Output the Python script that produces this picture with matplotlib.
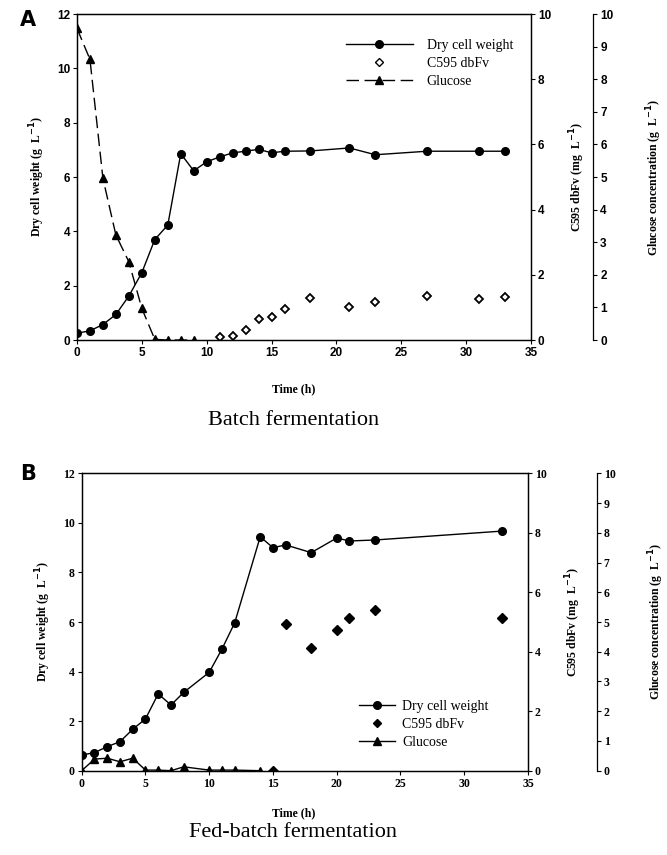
import matplotlib
matplotlib.use("Agg")
import matplotlib.pyplot as plt
from matplotlib.lines import Line2D

# ---- Panel A: batch fermentation ----
a_dcw_t = [0, 1, 2, 3, 4, 5, 6, 7, 8, 9, 10, 11, 12, 13, 14, 15, 16, 18, 21, 23, 27, 31, 33]
a_dcw = [0.25, 0.34, 0.57, 0.94, 1.62, 2.48, 3.70, 4.23, 6.86, 6.23, 6.56, 6.74, 6.89,
         6.95, 7.02, 6.89, 6.95, 6.96, 7.07, 6.82, 6.95, 6.95, 6.95]
a_c595_t = [11, 12, 13, 14, 15, 16, 18, 21, 23, 27, 31, 33]
a_c595 = [0.10, 0.12, 0.31, 0.66, 0.71, 0.94, 1.28, 1.00, 1.18, 1.35, 1.25, 1.31]
a_glc_t = [0, 1, 2, 3, 4, 5, 6, 7, 8, 9]
a_glc = [9.56, 8.61, 4.96, 3.22, 2.40, 0.97, 0.02, 0.0, 0.0, 0.0]

# ---- Panel B: fed-batch fermentation ----
b_dcw_t = [0, 1, 2, 3, 4, 5, 6, 7, 8, 10, 11, 12, 14, 15, 16, 18, 20, 21, 23, 33]
b_dcw = [0.63, 0.73, 0.97, 1.17, 1.67, 2.09, 3.10, 2.65, 3.16, 3.97, 4.91, 5.97,
         9.44, 9.00, 9.11, 8.80, 9.39, 9.27, 9.31, 9.67]
b_c595_t = [15, 16, 18, 20, 21, 23, 33]
b_c595 = [0.0, 4.92, 4.12, 4.73, 5.13, 5.41, 5.15]
b_glc_t = [0, 1, 2, 3, 4, 5, 6, 7, 8, 10, 11, 12, 14]
b_glc = [0.0, 0.39, 0.42, 0.30, 0.42, 0.02, 0.02, 0.0, 0.13, 0.02, 0.02, 0.02, 0.0]

SERIF = "Liberation Serif"
SANS = "Liberation Sans"

fig = plt.figure(figsize=(6.67, 8.55), dpi=100)


def panel(rect, spine3, tickfont, dcw_t, dcw, c_t, c, g_t, g, open_diamond,
          glc_dash, leg_anchor, hlen, hpad, letter, letter_y, title, time_y, title_y):
    ax = fig.add_axes(rect)
    ax2 = ax.twinx()
    ax3 = ax.twinx()
    ax3.spines["right"].set_position(("axes", spine3))
    for s in ["left", "top", "bottom"]:
        ax3.spines[s].set_visible(False)

    ax.plot(dcw_t, dcw, "-o", color="black", ms=5.5, lw=1.0)
    if open_diamond:
        ax2.plot(c_t, c, "D", mfc="white", mec="black", mew=1.3, ms=4.2, ls="none")
    else:
        ax2.plot(c_t, c, "D", color="black", ms=5, ls="none")
    ls = (0, (9, 4)) if glc_dash else "-"
    ax3.plot(g_t, g, marker="^", color="black", ms=5.5, lw=1.0, ls=ls)

    ax.set_xlim(0, 35)
    ax.set_ylim(0, 12)
    ax2.set_ylim(0, 10)
    ax3.set_ylim(0, 10)
    ax.set_xticks(range(0, 36, 5))
    ax.set_yticks(range(0, 13, 2))
    ax2.set_yticks(range(0, 11, 2))
    ax3.set_yticks(range(0, 11, 1))
    for a in (ax, ax2, ax3):
        a.tick_params(direction="out", length=3, width=0.8, labelsize=8.5, pad=2)
        for lab in a.get_xticklabels() + a.get_yticklabels():
            lab.set_family(tickfont)
            lab.set_fontweight("bold")
        for s in a.spines.values():
            s.set_linewidth(0.9)

    lab = dict(family=SERIF, fontweight="bold", fontsize=8.5)
    ax.set_ylabel(r"Dry cell weight (g  L$^{\mathbf{-1}}$)", labelpad=7, **lab)
    ax2.set_ylabel(r"C595 dbFv (mg  L$^{\mathbf{-1}}$)", labelpad=12, **lab)
    ax3.set_ylabel(r"Glucose concentration (g  L$^{\mathbf{-1}}$)", labelpad=22, **lab)

    handles = [
        Line2D([], [], color="black", marker="o", ms=5.5, lw=1.0),
        Line2D([], [], color="black", marker="D", ls="none",
               mfc="white" if open_diamond else "black", mec="black", ms=4.5),
        Line2D([], [], color="black", marker="^", ms=5.5, lw=1.0, ls=ls),
    ]
    ax.legend(handles, ["Dry cell weight", "C595 dbFv", "Glucose"],
              loc="upper left", bbox_to_anchor=leg_anchor,
              bbox_transform=fig.transFigure, frameon=False,
              handlelength=hlen, handletextpad=hpad, labelspacing=0.35,
              prop=dict(family=SERIF, size=10))

    fig.text(0.03, letter_y, letter, family="DejaVu Sans", fontweight="bold",
             fontsize=15, ha="left", va="center")
    fig.text(0.44, time_y, "Time (h)", family=SERIF, fontweight="bold",
             fontsize=8.5, ha="center", va="center")
    fig.text(0.44, title_y, title, family=SERIF, fontsize=16,
             ha="center", va="center")
    return ax


panel([0.1154, 0.6023, 0.6807, 0.3813], 1.137, SANS,
      a_dcw_t, a_dcw, a_c595_t, a_c595, a_glc_t, a_glc, True, True,
      (0.50, 0.969), 4.8, 1.0, "A", 0.977, "Batch fermentation", 0.545, 0.508)

panel([0.1225, 0.0986, 0.6691, 0.3478], 1.154, SERIF,
      b_dcw_t, b_dcw, b_c595_t, b_c595, b_glc_t, b_glc, False, False,
      (0.52, 0.196), 2.6, 0.5, "B", 0.446, "Fed-batch fermentation", 0.049, 0.026)

fig.savefig("out.png", dpi=100)
